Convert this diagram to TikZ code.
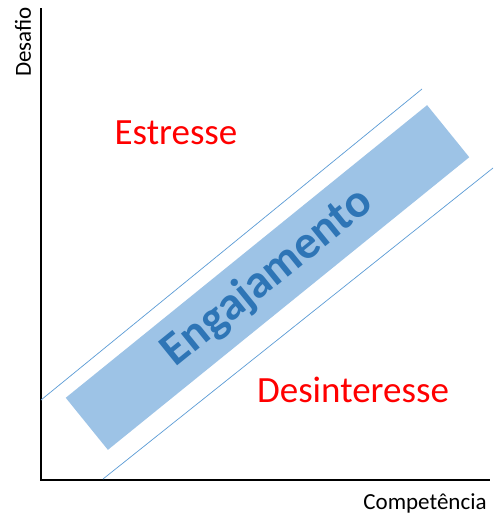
\documentclass[tikz,border=0pt]{standalone}
\usepackage{fontspec}
\setmainfont{Carlito}
\definecolor{faixaazul}{HTML}{9DC3E6}
\definecolor{textoazul}{HTML}{2E75B6}
\definecolor{linhaazul}{HTML}{5B9BD5}

\begin{document}
\begin{tikzpicture}[x=1pt,y=-1pt,
    zona/.style={font=\fontsize{37}{37}\selectfont,text=red},
    eixo/.style={font=\fontsize{23}{23}\selectfont},
    limite/.style={draw=linhaazul,line width=0.7pt}]
\useasboundingbox(0,0) rectangle (497,525);
%\draw(0,0) rectangle (497,525);
\draw[line width=1.6pt](41,8)--(41,480)--(490,480);

\draw[limite](41,400)--(422,89);
\draw[limite](103,479)--(493,168);

\node[fill=faixaazul,rotate=39,minimum width=465pt,minimum height=67pt,
    inner sep=0pt,text=textoazul,font=\fontsize{47}{47}\selectfont\bfseries]
    (engajamento) at (267.5,277.5) {Engajamento};

\node[zona](estresse) at (176,133) {Estresse};
\node[zona](desinteresse) at (353,390) {Desinteresse};

\node[eixo,rotate=90](desafio) at (23,42) {Desafio};
\node[eixo](competencia) at (425,503) {Competência};
\end{tikzpicture}
\end{document}
